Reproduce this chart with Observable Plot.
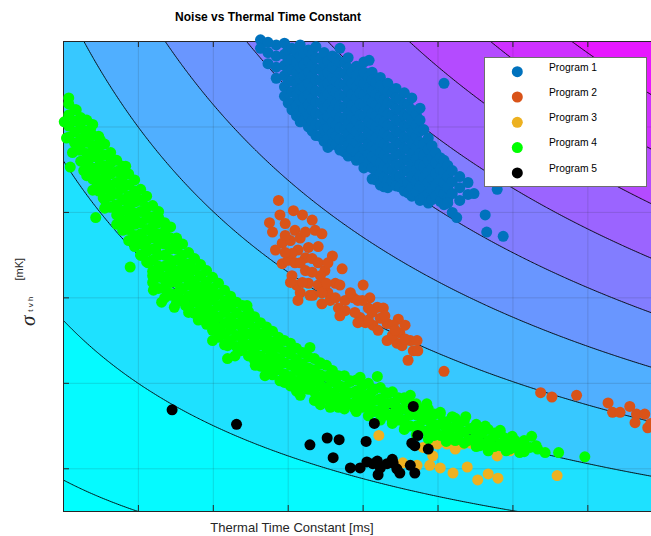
<!DOCTYPE html>
<html>
<head>
<meta charset="utf-8">
<script src="https://cdn.jsdelivr.net/npm/d3@7"></script>
<script src="https://cdn.jsdelivr.net/npm/@observablehq/plot@0.6"></script>
<style>
  body { margin: 0; background: #fff; }
  #chart { position: relative; width: 651px; height: 536px; font-family: "Liberation Sans", Arial, sans-serif; }
  #chart svg { position: absolute; left: 0; top: 0; }
</style>
</head>
<body>
<div id="chart"></div>
<script>
// ---- labels ----
const titleText = "Noise vs Thermal Time Constant";
const xLabel = "Thermal Time Constant [ms]";
const yLabelSymbol = "\u03c3";
const yLabelSub = "t v h";
const yLabelUnit = "[mK]";
const seriesNames = ["Program 1", "Program 2", "Program 3", "Program 4", "Program 5"];
const seriesColors = ["#0072BD", "#D95319", "#EDB120", "#00FF00", "#000000"];

// ---- axis ticks (unlabelled) ----
const xTicks = [0, 1, 2, 3, 4, 5, 6, 7];
const yTicks = [0, 1, 2, 3, 4, 5];
const xDomain = [0, 7.85];
const yDomain = [-0.5, 5];

// ---- background figure-of-merit surface: (tau + tauOffset) * (sigma + sigmaOffset) ----
const tauOffset = 4.07;
const sigmaOffset = 2.0;
const levels = [0, 7.6, 15.2, 22.8, 30.4, 38, 45.6, 53.2, 60.8, 68.4, 76, 83.6];
const surfaceRange = [6.1, 83.4]; // min / max of the surface over the axes

// ---- measurements: [time constant, noise] ----
const program1 = [
  [2.63,5.02],[2.63,4.92],
  [2.73,4.99],[2.73,4.87],[2.73,4.74],
  [2.84,4.96],[2.84,4.83],[2.84,4.70],[2.84,4.57],
  [2.95,4.98],[2.95,4.85],[2.95,4.72],[2.95,4.60],[2.95,4.47],[2.95,4.36],
  [3.00,4.90],[3.00,4.78],[3.00,4.66],[3.00,4.53],[3.00,4.40],[3.00,4.28],
  [3.05,4.92],[3.05,4.79],[3.05,4.67],[3.05,4.54],[3.05,4.41],[3.05,4.28],[3.05,4.20],
  [3.11,4.88],[3.11,4.76],[3.11,4.63],[3.11,4.50],[3.11,4.37],[3.11,4.25],[3.11,4.13],
  [3.16,4.96],[3.16,4.83],[3.16,4.70],[3.16,4.57],[3.16,4.44],[3.16,4.31],[3.16,4.19],[3.16,4.06],
  [3.21,4.86],[3.21,4.73],[3.21,4.60],[3.21,4.47],[3.21,4.34],[3.21,4.21],[3.21,4.08],
  [3.27,4.90],[3.27,4.77],[3.27,4.64],[3.27,4.51],[3.27,4.38],[3.27,4.26],[3.27,4.13],[3.27,4.00],
  [3.32,4.85],[3.32,4.72],[3.32,4.59],[3.32,4.46],[3.32,4.33],[3.32,4.20],[3.32,4.07],[3.32,3.95],
  [3.37,4.94],[3.37,4.81],[3.37,4.68],[3.37,4.55],[3.37,4.42],[3.37,4.29],[3.37,4.16],[3.37,4.03],[3.37,3.90],
  [3.43,4.80],[3.43,4.67],[3.43,4.54],[3.43,4.41],[3.43,4.28],[3.43,4.15],[3.43,4.02],[3.43,3.89],
  [3.48,4.87],[3.48,4.74],[3.48,4.61],[3.48,4.48],[3.48,4.35],[3.48,4.22],[3.48,4.09],[3.48,3.96],[3.48,3.83],
  [3.53,4.77],[3.53,4.64],[3.53,4.51],[3.53,4.38],[3.53,4.25],[3.53,4.12],[3.53,3.99],[3.53,3.86],[3.53,3.76],
  [3.59,4.83],[3.59,4.70],[3.59,4.57],[3.59,4.44],[3.59,4.31],[3.59,4.19],[3.59,4.06],[3.59,3.93],[3.59,3.80],
  [3.64,4.80],[3.64,4.67],[3.64,4.54],[3.64,4.41],[3.64,4.28],[3.64,4.15],[3.64,4.02],[3.64,3.89],[3.64,3.79],
  [3.69,4.92],[3.69,4.76],[3.69,4.63],[3.69,4.50],[3.69,4.37],[3.69,4.24],[3.69,4.11],[3.69,3.99],[3.69,3.86],[3.69,3.73],
  [3.75,4.75],[3.75,4.62],[3.75,4.49],[3.75,4.36],[3.75,4.23],[3.75,4.10],[3.75,3.97],[3.75,3.84],[3.75,3.71],
  [3.80,4.81],[3.80,4.69],[3.80,4.56],[3.80,4.43],[3.80,4.30],[3.80,4.17],[3.80,4.04],[3.80,3.92],[3.80,3.79],[3.80,3.66],
  [3.85,4.64],[3.85,4.51],[3.85,4.38],[3.85,4.25],[3.85,4.12],[3.85,3.99],[3.85,3.86],[3.85,3.74],
  [3.91,4.71],[3.91,4.60],[3.91,4.47],[3.91,4.34],[3.91,4.21],[3.91,4.08],[3.91,3.95],[3.91,3.82],[3.91,3.69],[3.91,3.61],
  [3.96,4.66],[3.96,4.53],[3.96,4.40],[3.96,4.27],[3.96,4.14],[3.96,4.01],[3.96,3.88],[3.96,3.75],[3.96,3.65],
  [4.01,4.76],[4.01,4.64],[4.01,4.51],[4.01,4.38],[4.01,4.26],[4.01,4.13],[4.01,4.00],[4.01,3.87],[4.01,3.74],[4.01,3.61],[4.01,3.52],
  [4.07,4.58],[4.07,4.45],[4.07,4.32],[4.07,4.19],[4.07,4.06],[4.07,3.93],[4.07,3.80],[4.07,3.68],[4.07,3.57],
  [4.12,4.64],[4.12,4.55],[4.12,4.42],[4.12,4.29],[4.12,4.16],[4.12,4.03],[4.12,3.90],[4.12,3.77],[4.12,3.65],[4.12,3.52],[4.12,3.39],
  [4.17,4.52],[4.17,4.39],[4.17,4.26],[4.17,4.13],[4.17,4.00],[4.17,3.87],[4.17,3.74],[4.17,3.61],[4.17,3.48],[4.17,3.38],
  [4.23,4.58],[4.23,4.48],[4.23,4.35],[4.23,4.22],[4.23,4.09],[4.23,3.96],[4.23,3.83],[4.23,3.70],[4.23,3.58],[4.23,3.45],[4.23,3.32],
  [4.28,4.45],[4.28,4.32],[4.28,4.19],[4.28,4.06],[4.28,3.93],[4.28,3.80],[4.28,3.67],[4.28,3.54],[4.28,3.41],[4.28,3.30],
  [4.33,4.51],[4.33,4.41],[4.33,4.28],[4.33,4.15],[4.33,4.02],[4.33,3.89],[4.33,3.76],[4.33,3.63],[4.33,3.51],[4.33,3.38],[4.33,3.29],
  [4.39,4.40],[4.39,4.27],[4.39,4.14],[4.39,4.01],[4.39,3.88],[4.39,3.75],[4.39,3.62],[4.39,3.49],[4.39,3.37],
  [4.44,4.45],[4.44,4.34],[4.44,4.21],[4.44,4.08],[4.44,3.95],[4.44,3.82],[4.44,3.69],[4.44,3.56],[4.44,3.43],[4.44,3.31],
  [4.49,4.33],[4.49,4.20],[4.49,4.07],[4.49,3.94],[4.49,3.81],[4.49,3.68],[4.49,3.55],[4.49,3.42],[4.49,3.30],
  [4.55,4.40],[4.55,4.27],[4.55,4.14],[4.55,4.01],[4.55,3.88],[4.55,3.75],[4.55,3.62],[4.55,3.49],[4.55,3.36],[4.55,3.25],
  [4.60,4.26],[4.60,4.13],[4.60,4.00],[4.60,3.87],[4.60,3.74],[4.60,3.61],[4.60,3.48],[4.60,3.35],[4.60,3.23],
  [4.65,4.34],[4.65,4.20],[4.65,4.07],[4.65,3.94],[4.65,3.81],[4.65,3.68],[4.65,3.55],[4.65,3.42],[4.65,3.29],[4.65,3.19],
  [4.71,4.15],[4.71,4.02],[4.71,3.89],[4.71,3.76],[4.71,3.63],[4.71,3.50],[4.71,3.37],[4.71,3.24],
  [4.76,4.22],[4.76,4.08],[4.76,3.95],[4.76,3.82],[4.76,3.69],[4.76,3.56],[4.76,3.43],[4.76,3.31],[4.76,3.14],
  [4.81,3.97],[4.81,3.80],[4.81,3.67],[4.81,3.54],[4.81,3.41],[4.81,3.28],[4.81,3.18],
  [4.87,3.87],[4.87,3.74],[4.87,3.61],[4.87,3.48],[4.87,3.35],[4.87,3.22],[4.87,3.11],
  [4.92,3.78],[4.92,3.65],[4.92,3.52],[4.92,3.39],[4.92,3.26],[4.92,3.15],
  [4.97,3.70],[4.97,3.58],[4.97,3.45],[4.97,3.32],[4.97,3.19],
  [5.03,3.64],[5.03,3.51],[5.03,3.38],[5.03,3.25],[5.03,3.13],
  [5.08,3.61],[5.08,3.48],[5.08,3.35],[5.08,3.22],[5.08,3.09],
  [5.13,3.55],[5.13,3.42],[5.13,3.29],[5.13,3.16],
  [5.19,3.49],[5.19,3.36],[5.19,3.22],[5.19,3.00],
  [5.29,3.42],[5.29,3.29],[5.29,3.14],
  [5.40,3.35],[5.40,3.21],
  [5.08,4.51],[4.08,4.78],[5.63,2.97],[5.65,2.77],[5.87,2.72],[5.79,3.27],[5.25,2.94],[5.13,3.11],[5.48,3.22]
];

const program2 = [
  [2.87,3.14],[2.75,2.88],[3.07,3.02],[3.19,2.97],[2.96,2.87],[3.09,2.79],[3.36,2.79],[3.45,2.75],
  [2.92,2.64],[3.27,2.59],[3.40,2.60],[3.59,2.49],[2.92,2.40],[3.00,2.44],[3.23,2.47],[3.72,2.34],
  [3.49,2.32],[3.16,2.06],[3.45,1.93],[3.76,1.97],[3.63,2.17],[3.27,2.17],[4.00,2.15],[3.87,2.00],
  [4.09,2.00],[3.96,1.77],[4.19,1.89],[4.27,1.88],[4.47,1.75],[4.32,1.70],[4.13,1.68],[4.49,1.59],
  [4.32,1.50],[4.45,1.47],[4.63,1.50],[4.72,1.50],[4.67,1.38],[4.73,1.38],[4.60,1.27],[5.08,1.14],
  [3.03,2.67],[3.13,2.56],[3.32,2.46],[3.05,2.26],[3.23,2.32],[3.40,2.15],[3.53,2.06],[3.67,1.88],
  [3.89,1.83],[4.07,1.88],[4.23,1.76],[4.39,1.56],[4.52,1.44],
  [2.79,2.77],[3.16,2.70],[3.32,2.91],[3.05,2.52],[3.40,2.41],[3.11,2.15],[3.33,2.03],[3.56,1.97],
  [3.69,2.15],[3.83,2.06],[3.99,1.97],[4.03,1.71],[4.40,1.68],[4.56,1.52],
  [2.89,2.97],[2.96,2.73],[2.96,2.53],[3.09,2.41],[3.03,2.18],[3.23,2.77],[3.19,2.18],[3.29,2.03],
  [3.43,2.26],[3.53,2.41],[3.45,2.06],[3.63,2.00],[3.76,1.85],[3.93,1.97],[4.07,1.74],[4.20,1.62],
  [4.29,1.79],[4.43,1.62],[4.56,1.68],
  [2.83,2.56],[3.16,2.41],[3.32,2.30],[3.13,1.97],[3.51,2.17],[3.69,1.79],[3.93,1.71],[4.12,1.83],
  [6.37,0.89],[6.52,0.84],[6.85,0.86],[7.27,0.77],[7.33,0.66],[7.43,0.66],[7.56,0.73],[7.65,0.64],
  [7.63,0.54],[7.76,0.64],[7.80,0.48],[7.84,0.53]
];

const program3 = [
  [4.21,0.39],[4.80,0.25],[4.87,0.27],[4.99,0.29],[5.12,0.29],[5.33,0.29],[5.43,0.30],[5.56,0.29],
  [5.69,0.29],[5.79,0.15],[4.53,0.07],[4.72,0.04],[4.89,0.04],[5.03,0.01],[5.20,-0.05],[5.39,0.02],
  [5.53,-0.13],[5.67,-0.06],[5.80,-0.11],[6.59,-0.08],[5.23,0.23],[5.96,0.21],[4.93,0.15]
];

const program4 = [
  [0.07,4.34],[0.17,4.20],[0.01,4.06],[0.25,4.08],[0.36,3.97],[0.04,3.87],[0.12,3.70],[0.09,3.53],
  [0.43,3.73],[0.64,3.63],[0.83,3.54],[0.23,3.85],[0.29,3.90],[0.20,3.73],[0.33,3.61],[0.27,3.49],
  [0.39,3.43],[0.49,3.55],[0.45,3.32],[0.56,3.38],[0.63,3.26],[0.53,3.17],[0.69,3.08],[0.76,3.32],
  [0.83,3.14],[0.73,2.97],[0.43,2.94],[0.89,3.02],[0.87,2.85],[0.96,2.91],[1.03,2.73],[0.92,2.67],
  [1.09,3.02],[1.27,2.94],[1.09,2.61],[1.16,2.79],[1.23,2.56],[1.03,2.50],[1.13,2.41],[1.29,2.67],
  [1.36,2.50],[1.43,2.38],[1.27,2.32],[0.89,2.36],[1.19,2.26],[1.36,2.20],[1.49,2.26],[1.56,2.09],
  [1.43,2.03],[1.63,2.32],[1.69,2.15],[1.76,1.97],[1.63,1.91],[1.83,2.09],[1.89,1.85],[1.80,1.74],
  [1.96,1.97],[2.03,1.76],[2.09,1.62],[1.99,1.50],[2.16,1.85],[2.23,1.68],[2.19,1.44],[2.29,1.32],
  [2.19,1.29],[2.36,1.56],[2.45,1.91],[2.43,1.74],[2.49,1.44],[2.56,1.62],[2.60,1.32],[2.65,1.21],
  [2.69,1.50],[2.76,1.32],[2.83,1.44],[2.79,1.15],[2.89,1.27],[2.96,1.09],[3.03,1.38],[3.09,1.21],
  [3.16,1.03],[3.05,1.00],[3.23,1.15],[3.29,1.42],[3.29,0.97],[3.40,0.82],[3.43,1.24],[3.43,1.06],
  [3.49,0.91],[3.56,0.72],[3.56,1.09],[3.63,0.86],[3.69,0.97],[3.76,0.80],[3.83,1.03],[3.89,0.89],
  [3.89,0.70],[3.96,1.07],[3.99,0.86],[4.07,0.74],[4.19,1.08],[4.12,0.91],[4.23,0.80],[4.29,0.66],
  [4.33,0.88],[4.43,0.74],[4.49,0.59],[4.56,0.80],[4.63,0.86],[4.65,0.66],[4.73,0.50],[4.76,0.70],
  [4.85,0.76],[4.89,0.56],[4.96,0.45],[5.03,0.66],[5.09,0.50],[5.16,0.39],[5.23,0.59],[5.29,0.45],
  [5.37,0.61],[5.40,0.33],[5.47,0.47],[5.53,0.36],[5.63,0.50],[5.69,0.33],[5.76,0.42],[5.83,0.27],
  [5.89,0.36],[5.96,0.23],[6.03,0.33],[6.09,0.19],[6.16,0.27],[6.25,0.38],[6.33,0.23],[6.43,0.19],
  [6.61,0.19],[6.96,0.14],
  [0.49,3.85],[0.59,3.49],[0.76,3.47],[0.96,3.20],[1.05,3.14],[1.16,2.93],[1.36,2.79],[1.49,2.61],
  [1.56,2.46],[1.69,2.38],[1.83,2.26],[1.89,2.15],[2.03,2.03],[2.23,1.97],[2.36,1.38],[2.56,1.21],
  [2.69,1.09],[2.89,1.03],[3.16,0.86],[3.36,1.09],[3.63,1.03],[3.76,0.91],[4.03,0.82],[4.16,0.68],
  [4.39,0.56],[4.56,0.50],[4.83,0.62],[5.23,0.33],[5.56,0.27],[5.83,0.45],
  [1.20,2.09],[1.31,1.95],[1.48,1.89],[1.67,1.83],
  [0.07,4.27],[0.07,4.14],[0.07,4.01],[0.07,3.88],
  [0.23,4.11],[0.23,3.99],[0.23,3.86],[0.23,3.73],[0.23,3.60],
  [0.39,4.03],[0.39,3.90],[0.39,3.78],[0.39,3.65],[0.39,3.52],[0.39,3.39],[0.39,3.26],
  [0.55,3.80],[0.55,3.67],[0.55,3.54],[0.55,3.41],[0.55,3.28],[0.55,3.15],[0.55,3.05],
  [0.71,3.61],[0.71,3.48],[0.71,3.35],[0.71,3.22],[0.71,3.09],[0.71,2.97],[0.71,2.86],
  [0.87,3.45],[0.87,3.32],[0.87,3.19],[0.87,3.06],[0.87,2.93],[0.87,2.80],[0.87,2.67],
  [1.03,3.27],[1.03,3.14],[1.03,3.01],[1.03,2.88],[1.03,2.75],[1.03,2.63],[1.03,2.50],
  [1.19,3.08],[1.19,2.95],[1.19,2.83],[1.19,2.70],[1.19,2.57],[1.19,2.44],[1.19,2.31],[1.19,2.18],
  [1.35,2.88],[1.35,2.75],[1.35,2.63],[1.35,2.50],[1.35,2.37],[1.35,2.24],[1.35,2.11],[1.35,2.00],
  [1.51,2.70],[1.51,2.57],[1.51,2.44],[1.51,2.31],[1.51,2.18],[1.51,2.05],[1.51,1.95],
  [1.67,2.53],[1.67,2.40],[1.67,2.27],[1.67,2.15],[1.67,2.02],[1.67,1.89],
  [1.83,2.39],[1.83,2.26],[1.83,2.13],[1.83,2.00],[1.83,1.88],[1.83,1.76],
  [1.99,2.24],[1.99,2.11],[1.99,1.98],[1.99,1.85],[1.99,1.72],[1.99,1.62],
  [2.15,2.09],[2.15,1.96],[2.15,1.83],[2.15,1.70],[2.15,1.57],[2.15,1.45],
  [2.31,1.95],[2.31,1.82],[2.31,1.69],[2.31,1.56],[2.31,1.43],
  [2.47,1.84],[2.47,1.71],[2.47,1.58],[2.47,1.45],[2.47,1.32],
  [2.63,1.71],[2.63,1.58],[2.63,1.45],[2.63,1.32],[2.63,1.20],
  [2.79,1.61],[2.79,1.48],[2.79,1.35],[2.79,1.22],[2.79,1.10],
  [2.95,1.50],[2.95,1.37],[2.95,1.24],[2.95,1.11],[2.95,1.01],
  [3.11,1.41],[3.11,1.28],[3.11,1.15],[3.11,1.02],[3.11,0.91],
  [3.27,1.31],[3.27,1.18],[3.27,1.06],[3.27,0.93],
  [3.43,1.23],[3.43,1.10],[3.43,0.97],[3.43,0.84],[3.43,0.75],
  [3.59,1.15],[3.59,1.02],[3.59,0.89],[3.59,0.76],
  [3.75,1.09],[3.75,0.96],[3.75,0.83],[3.75,0.70],
  [3.91,1.04],[3.91,0.91],[3.91,0.79],[3.91,0.67],
  [4.07,1.00],[4.07,0.87],[4.07,0.74],[4.07,0.62],
  [4.23,0.95],[4.23,0.82],[4.23,0.69],[4.23,0.57],
  [4.39,0.90],[4.39,0.77],[4.39,0.64],[4.39,0.53],
  [4.55,0.83],[4.55,0.70],[4.55,0.57],[4.55,0.46],
  [4.71,0.76],[4.71,0.63],[4.71,0.50],[4.71,0.40],
  [4.87,0.70],[4.87,0.57],[4.87,0.45],[4.87,0.35],
  [5.03,0.64],[5.03,0.52],[5.03,0.39],
  [5.19,0.61],[5.19,0.48],[5.19,0.35],
  [5.35,0.56],[5.35,0.43],[5.35,0.30],
  [5.51,0.52],[5.51,0.39],[5.51,0.26],
  [5.67,0.46],[5.67,0.33],[5.67,0.21],
  [5.83,0.42],[5.83,0.29],
  [5.99,0.38],[5.99,0.25],
  [6.15,0.33],[6.15,0.20],
  [6.31,0.27],
  [0.15,4.20],[0.15,4.07],[0.15,3.94],[0.15,3.81],
  [0.31,4.08],[0.31,3.95],[0.31,3.82],[0.31,3.69],[0.31,3.56],[0.31,3.43],
  [0.47,3.89],[0.47,3.76],[0.47,3.63],[0.47,3.50],[0.47,3.38],[0.47,3.25],
  [0.63,3.70],[0.63,3.58],[0.63,3.45],[0.63,3.32],[0.63,3.19],[0.63,3.06],
  [0.79,3.54],[0.79,3.41],[0.79,3.28],[0.79,3.15],[0.79,3.02],[0.79,2.90],[0.79,2.79],
  [0.95,3.38],[0.95,3.25],[0.95,3.12],[0.95,2.99],[0.95,2.86],[0.95,2.73],[0.95,2.60],
  [1.11,3.19],[1.11,3.06],[1.11,2.93],[1.11,2.80],[1.11,2.67],[1.11,2.54],[1.11,2.42],
  [1.27,3.01],[1.27,2.88],[1.27,2.75],[1.27,2.63],[1.27,2.50],[1.27,2.37],[1.27,2.24],[1.27,2.11],
  [1.43,2.83],[1.43,2.70],[1.43,2.57],[1.43,2.44],[1.43,2.31],[1.43,2.18],[1.43,2.05],
  [1.59,2.63],[1.59,2.50],[1.59,2.37],[1.59,2.24],[1.59,2.11],[1.59,1.98],
  [1.75,2.46],[1.75,2.33],[1.75,2.20],[1.75,2.08],[1.75,1.95],[1.75,1.82],
  [1.91,2.32],[1.91,2.19],[1.91,2.06],[1.91,1.93],[1.91,1.81],[1.91,1.69],
  [2.07,2.17],[2.07,2.04],[2.07,1.91],[2.07,1.78],[2.07,1.65],[2.07,1.54],
  [2.23,2.02],[2.23,1.89],[2.23,1.76],[2.23,1.63],[2.23,1.50],
  [2.39,1.91],[2.39,1.78],[2.39,1.65],[2.39,1.52],[2.39,1.40],
  [2.55,1.78],[2.55,1.65],[2.55,1.52],[2.55,1.40],[2.55,1.27],
  [2.71,1.66],[2.71,1.54],[2.71,1.41],[2.71,1.28],[2.71,1.16],
  [2.87,1.54],[2.87,1.42],[2.87,1.29],[2.87,1.16],
  [3.03,1.47],[3.03,1.34],[3.03,1.21],[3.03,1.08],[3.03,0.97],
  [3.19,1.36],[3.19,1.23],[3.19,1.10],[3.19,0.97],
  [3.35,1.29],[3.35,1.16],[3.35,1.03],[3.35,0.90],[3.35,0.80],
  [3.51,1.21],[3.51,1.08],[3.51,0.95],[3.51,0.82],
  [3.67,1.09],[3.67,0.96],[3.67,0.83],[3.67,0.72],
  [3.83,1.02],[3.83,0.89],[3.83,0.76],
  [3.99,0.97],[3.99,0.84],[3.99,0.72],
  [4.15,0.93],[4.15,0.80],[4.15,0.67],
  [4.31,0.89],[4.31,0.76],[4.31,0.63],
  [4.47,0.83],[4.47,0.70],[4.47,0.57],
  [4.63,0.76],[4.63,0.63],[4.63,0.50],
  [4.79,0.70],[4.79,0.57],[4.79,0.45],
  [4.95,0.64],[4.95,0.52],[4.95,0.39],
  [5.11,0.55],[5.11,0.42],[5.11,0.32],
  [5.27,0.50],[5.27,0.38],
  [5.43,0.47],[5.43,0.34],
  [5.59,0.42],[5.59,0.29],
  [5.75,0.38],[5.75,0.26],
  [5.91,0.33],[5.91,0.21],
  [6.07,0.28],
  [6.23,0.25]
];

const program5 = [
  [1.45,0.69],[2.31,0.52],[3.29,0.28],[3.52,0.36],[3.68,0.34],[3.60,0.13],[3.83,0.01],[3.96,0.01],
  [4.05,0.08],[4.19,0.09],[4.23,0.01],[4.20,-0.07],[4.39,0.11],[4.45,0.00],[4.49,-0.05],[4.63,0.04],
  [4.69,-0.05],[4.15,0.53],[4.04,0.32],[4.67,0.73],[4.73,0.39],[4.65,0.30],[4.69,0.27],[4.87,0.23],
  [4.13,0.06],[4.32,0.06],[4.40,0.07]
];

const programs = [program1, program2, program3, program4, program5];

const W = 651, H = 536;
const axisColor = "#262626";
const dotRadius = 5.5;

const surface = (tau, sigma) => (tau + tauOffset) * (sigma + sigmaOffset);

const plot = Plot.plot({
  width: W,
  height: H,
  marginLeft: 63,
  marginTop: 41,
  marginRight: 0,
  marginBottom: 25,
  x: { domain: xDomain, axis: null },
  y: { domain: yDomain, axis: null },
  color: { type: "linear", domain: surfaceRange, range: ["#00ffff", "#ff00ff"], interpolate: "rgb", clamp: true },
  marks: [
    // filled contour bands with black iso-lines
    Plot.contour({
      fill: surface,
      x1: -0.2, x2: 8.1, y1: -0.7, y2: 5.2,
      thresholds: levels,
      stroke: "black",
      strokeWidth: 0.9,
      clip: true
    }),
    Plot.gridX(xTicks, { stroke: axisColor, strokeOpacity: 0.15 }),
    Plot.gridY(yTicks, { stroke: axisColor, strokeOpacity: 0.15 }),
    // inward tick marks
    Plot.tickX(xTicks, { x: d => d, insetTop: 464, stroke: axisColor }),
    Plot.tickX(xTicks, { x: d => d, insetBottom: 464, stroke: axisColor }),
    Plot.tickY(yTicks, { y: d => d, insetRight: 582, stroke: axisColor }),
    // axes box (left, bottom, top)
    Plot.ruleX([xDomain[0]], { stroke: axisColor }),
    Plot.ruleY(yDomain, { stroke: axisColor }),
    // measurement series
    ...programs.map((data, i) => Plot.dot(data, {
      x: d => d[0],
      y: d => d[1],
      r: dotRadius,
      fill: seriesColors[i],
      stroke: "none"
    }))
  ]
});

const chart = document.getElementById("chart");
chart.appendChild(plot);

// title, axis labels and legend
const rowGap = 25.3;
const legendRows = seriesNames.map((name, i) => `
  <circle cx="517.3" cy="${71.7 + i * rowGap}" r="5.5" fill="${seriesColors[i]}"></circle>
  <text x="549" y="${70.5 + i * rowGap}" font-size="10.3" fill="#000">${name}</text>`).join("");

const overlay = `
<svg width="${W}" height="${H}" font-family="Liberation Sans, Arial, sans-serif">
  <text x="268" y="20.5" text-anchor="middle" font-size="12" font-weight="bold" fill="#000">${titleText}</text>
  <text x="292" y="532" text-anchor="middle" font-size="13" fill="${axisColor}">${xLabel}</text>
  <text transform="translate(35,326) rotate(-90)" fill="${axisColor}"><tspan font-family="Liberation Serif, serif" font-style="italic" font-size="21">${yLabelSymbol}</tspan><tspan font-size="8" dx="4" dy="-2">${yLabelSub}</tspan></text>
  <text transform="translate(22.5,280.5) rotate(-90)" font-size="11" fill="${axisColor}">${yLabelUnit}</text>
  <rect x="484.5" y="57.5" width="162" height="129" fill="#fff" stroke="#6e6e6e" stroke-width="1"></rect>
  ${legendRows}
</svg>`;
chart.insertAdjacentHTML("beforeend", overlay);
</script>
</body>
</html>
